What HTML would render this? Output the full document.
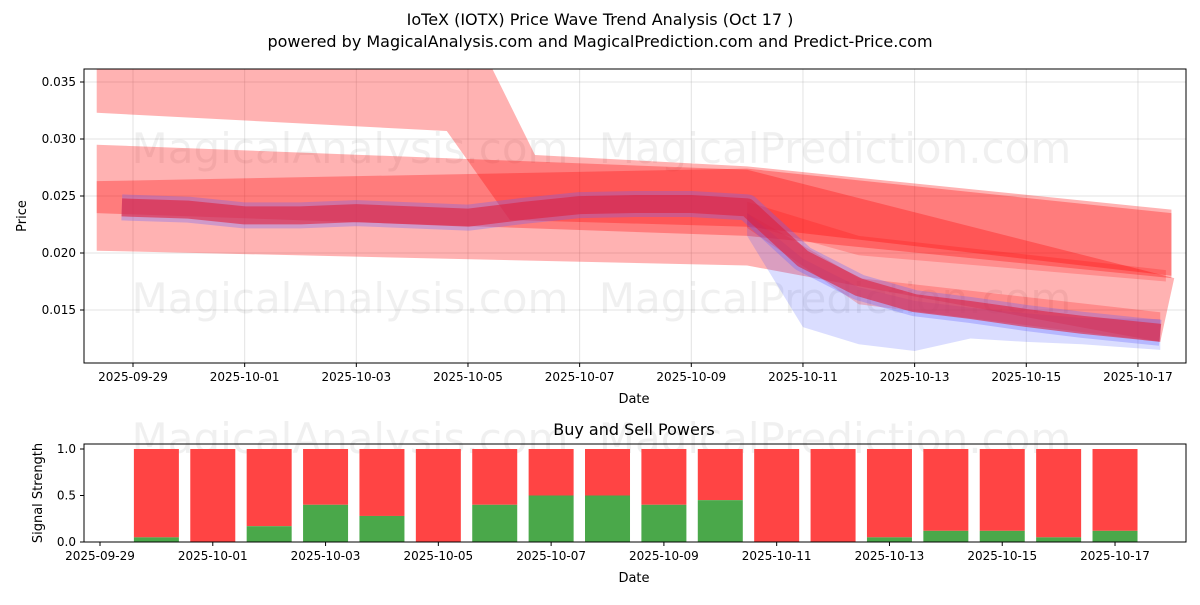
<!DOCTYPE html>
<html><head><meta charset="utf-8"><style>
body{margin:0;background:#fff;width:1200px;height:600px;overflow:hidden;font-family:"Liberation Sans","DejaVu Sans",sans-serif}
svg text{font-family:"DejaVu Sans","Liberation Sans",sans-serif}
</style></head><body>
<svg id="s" width="1200" height="600" xmlns="http://www.w3.org/2000/svg">
<text x="600" y="25" text-anchor="middle" font-size="16">IoTeX (IOTX) Price Wave Trend Analysis (Oct 17 )</text>
<text x="600" y="47" text-anchor="middle" font-size="16">powered by MagicalAnalysis.com and MagicalPrediction.com and Predict-Price.com</text>
<g id="topg"></g><g id="botg"></g>
</svg>
<script>
// ---- data (days since 2025-09-29) ----
const topTicks=[0.015,0.020,0.025,0.030,0.035];
const topTickLabels=["0.015","0.020","0.025","0.030","0.035"];
const dateTicks=[0,2,4,6,8,10,12,14,16,18];
const dateLabels=["2025-09-29","2025-10-01","2025-10-03","2025-10-05","2025-10-07","2025-10-09","2025-10-11","2025-10-13","2025-10-15","2025-10-17"];
const bandAUpperD=[-0.65,6.3,7.2,11,18.6];
const bandAUpperV=[0.0375,0.0375,0.0286,0.0276,0.0238];
const bandALowerD=[-0.65,5.62,6.75,11,18.6];
const bandALowerV=[0.0323,0.0307,0.0229,0.0223,0.018];
const bandBUpperD=[-0.65,11,18.65];
const bandBUpperV=[0.0295,0.0273,0.0178];
const bandBLowerD=[-0.65,11,18.4];
const bandBLowerV=[0.0202,0.0189,0.0122];
const bandCUpperD=[-0.65,11,18.6];
const bandCUpperV=[0.0263,0.0274,0.0235];
const bandCLowerD=[-0.65,11,18.6];
const bandCLowerV=[0.0235,0.0215,0.0178];
const bandDUpperD=[11,13,18.5];
const bandDUpperV=[0.0245,0.0215,0.0185];
const bandDLowerD=[11,13,18.5];
const bandDLowerV=[0.0225,0.0198,0.0175];
const bandEUpperD=[11,13,18.4];
const bandEUpperV=[0.0235,0.0178,0.0148];
const bandELowerD=[11,13,18.4];
const bandELowerV=[0.0222,0.0155,0.0122];
const blueUpperD=[11,12,13,14,15,16,17,18.4];
const blueUpperV=[0.0235,0.0195,0.017,0.0158,0.0152,0.0147,0.0143,0.0142];
const blueLowerD=[11,12,13,14,15,16,17,18.4];
const blueLowerV=[0.0215,0.0135,0.012,0.0114,0.0125,0.0122,0.012,0.0115];
const waveD=[-0.2,1,2,3,4,5,6,7,8,9,10,11,12,13,14,15,16,17,18.4];
const waveV=[0.0240,0.0238,0.0233,0.0233,0.0235,0.0233,0.0231,0.0237,0.0242,0.0243,0.0243,0.0240,0.0195,0.0170,0.0156,0.0150,0.0143,0.0137,0.0130];
const barDays=[1,2,3,4,5,6,7,8,9,10,11,12,13,14,15,16,17,18];
const buyVals=[0.05,0,0.17,0.4,0.28,0,0.4,0.5,0.5,0.4,0.45,0,0,0.05,0.12,0.12,0.05,0.12];
const botTicks=[0,0.5,1.0];
const botTickLabels=["0.0","0.5","1.0"];
// ---- axes ----
const NS="http://www.w3.org/2000/svg";
const X=d=>133+d*55.83, Y=v=>310-(v-0.015)/0.005*57;
const XB=d=>100+d*56.39, YB=v=>542-v*93;
function mk(p,t,a){const e=document.createElementNS(NS,t);for(const k in a)e.setAttribute(k,a[k]);p.appendChild(e);return e;}
const topG=document.getElementById('topg'), botG=document.getElementById('botg');
const cp=mk(topG,'clipPath',{id:'c1'});
mk(cp,'rect',{x:84,y:69,width:1102,height:294});
topTicks.forEach((v,i)=>{mk(topG,'line',{x1:84,x2:1186,y1:Y(v),y2:Y(v),stroke:'#b0b0b0','stroke-opacity':0.35});
 mk(topG,'line',{x1:80,x2:84,y1:Y(v),y2:Y(v),stroke:'#000'});
 const t=mk(topG,'text',{x:76,y:Y(v)+4,'text-anchor':'end','font-size':12});t.textContent=topTickLabels[i];
 
 });
dateTicks.forEach((d,i)=>{mk(topG,'line',{x1:X(d),x2:X(d),y1:69,y2:363,stroke:'#b0b0b0','stroke-opacity':0.35});
 mk(topG,'line',{x1:X(d),x2:X(d),y1:363,y2:367,stroke:'#000'});
 const t=mk(topG,'text',{x:X(d),y:381,'text-anchor':'middle','font-size':12});t.textContent=dateLabels[i];
 
 });
[[350,150],[835,150],[350,300],[835,300]].forEach((p,i)=>{const t=mk(topG,'text',{x:p[0],y:p[1]+13,'text-anchor':'middle','font-size':42,fill:'#000','fill-opacity':0.06});t.textContent=i%2?'MagicalPrediction.com':'MagicalAnalysis.com';});
const g=mk(topG,'g',{'clip-path':'url(#c1)'});
function band(ud,uv,ld,lv,fill,op,name){let pts=ud.map((d,i)=>X(d)+','+Y(uv[i]));for(let i=ld.length-1;i>=0;i--)pts.push(X(ld[i])+','+Y(lv[i]));
 const p=mk(g,'polygon',{points:pts.join(' '),fill:fill,'fill-opacity':op});
 
 }
band(bandAUpperD,bandAUpperV,bandALowerD,bandALowerV,'#ff0000',0.3,'band-a');
band(bandBUpperD,bandBUpperV,bandBLowerD,bandBLowerV,'#ff0000',0.3,'band-b');
band(bandCUpperD,bandCUpperV,bandCLowerD,bandCLowerV,'#ff0000',0.3,'band-c');
band(bandDUpperD,bandDUpperV,bandDLowerD,bandDLowerV,'#ff0000',0.2,'band-d');
band(blueUpperD,blueUpperV,blueLowerD,blueLowerV,'#3344ff',0.18,'blue-band');
band(bandEUpperD,bandEUpperV,bandELowerD,bandELowerV,'#ff0000',0.22,'band-e');
const wp=waveD.map((d,i)=>X(d)+','+Y(waveV[i])).join(' ');
let w=mk(g,'polyline',{points:wp,fill:'none',stroke:'#6060ff','stroke-opacity':0.3,'stroke-width':26,'stroke-linejoin':'round'});


w=mk(g,'polyline',{points:wp,fill:'none',stroke:'#e0203a','stroke-opacity':0.6,'stroke-width':18,'stroke-linejoin':'round'});


mk(topG,'rect',{x:84,y:69,width:1102,height:294,fill:'none',stroke:'#000'});
let t=mk(topG,'text',{x:634,y:403,'text-anchor':'middle','font-size':13});t.textContent='Date';
t=mk(topG,'text',{x:26,y:216,'text-anchor':'middle','font-size':13,transform:'rotate(-90 26 216)'});t.textContent='Price';
t=mk(botG,'text',{x:634,y:435,'text-anchor':'middle','font-size':16});t.textContent='Buy and Sell Powers';
[[350,440],[835,440]].forEach((p,i)=>{const q=mk(botG,'text',{x:p[0],y:p[1]+13,'text-anchor':'middle','font-size':42,'fill-opacity':0.06});q.textContent=i?'MagicalPrediction.com':'MagicalAnalysis.com';});
barDays.forEach((d,i)=>{const x=XB(d)-22.5;
 let r=mk(botG,'rect',{x:x,y:YB(1),width:45,height:YB(buyVals[i])-YB(1),fill:'#ff4444'});
 
 
 r=mk(botG,'rect',{x:x,y:YB(buyVals[i]),width:45,height:YB(0)-YB(buyVals[i]),fill:'#4aa84a'});
 
 });
botTicks.forEach((v,i)=>{mk(botG,'line',{x1:80,x2:84,y1:YB(v),y2:YB(v),stroke:'#000'});
 const q=mk(botG,'text',{x:76,y:YB(v)+4,'text-anchor':'end','font-size':12});q.textContent=botTickLabels[i];});
dateTicks.forEach((d,i)=>{mk(botG,'line',{x1:XB(d),x2:XB(d),y1:542,y2:546,stroke:'#000'});
 const q=mk(botG,'text',{x:XB(d),y:560,'text-anchor':'middle','font-size':12});q.textContent=dateLabels[i];});
mk(botG,'rect',{x:84,y:444,width:1102,height:98,fill:'none',stroke:'#000'});
t=mk(botG,'text',{x:634,y:582,'text-anchor':'middle','font-size':13});t.textContent='Date';
t=mk(botG,'text',{x:42,y:493,'text-anchor':'middle','font-size':13,transform:'rotate(-90 42 493)'});t.textContent='Signal Strength';
</script>
</body></html>
